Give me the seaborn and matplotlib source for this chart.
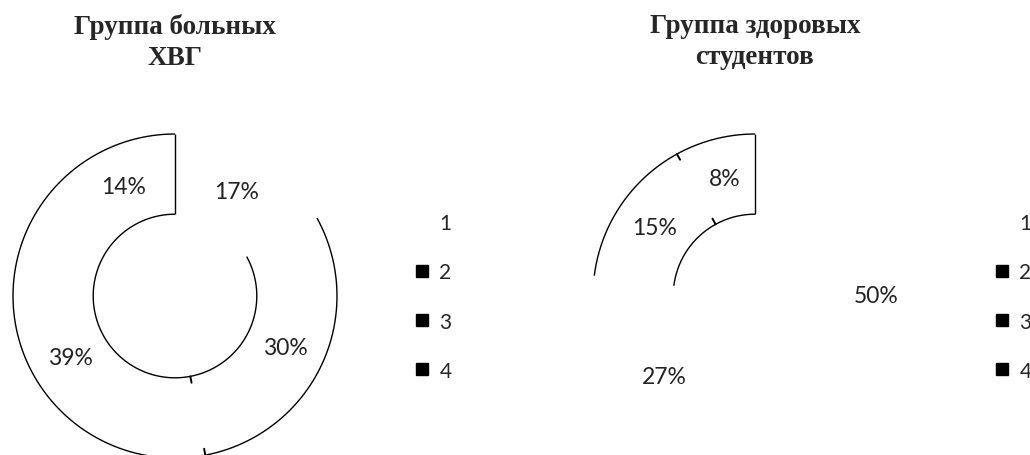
import matplotlib
matplotlib.use('Agg')

import matplotlib.pyplot as plt
import numpy as np
import seaborn as sns
from matplotlib.lines import Line2D


# data
labels = ['1', '2', '3', '4']
titles = ['Группа больных\nХВГ', 'Группа здоровых\nстудентов']
sick_pct = [17, 30, 39, 14]
healthy_pct = [50, 27, 15, 8]
# first slice that still shows its outline after the grey fills were lost
outlined_from = [1, 2]

sns.set_theme(style='white')
plt.rcParams['font.family'] = ['Lato', 'DejaVu Sans']

W, H = 1030, 456
R_PX = 162
HOLE = 0.505
centers = [(175, 297), (755, 297)]
legend_x = [405, 985]


def ring_edge(ax, values, first):
    cum = np.concatenate([[0], np.cumsum(values)]) / np.sum(values)
    start, end = cum[first], cum[-1]
    t = np.linspace(start, end, 300)
    ang = np.deg2rad(90 - 360 * t)
    kw = dict(color='black', lw=1.0, solid_capstyle='butt')
    ax.plot(np.cos(ang), np.sin(ang), **kw)
    ax.plot(HOLE * np.cos(ang), HOLE * np.sin(ang), **kw)
    a_end = np.deg2rad(90 - 360 * end)
    ax.plot([HOLE * np.cos(a_end), np.cos(a_end)], [HOLE * np.sin(a_end), np.sin(a_end)], **kw)
    # only a short tick is left of the first inner boundary
    if first + 1 < len(values):
        a = np.deg2rad(90 - 360 * cum[first + 1])
        for r0, r1 in [(1.0, 0.96), (HOLE, HOLE + 0.04)]:
            ax.plot([r0 * np.cos(a), r1 * np.cos(a)], [r0 * np.sin(a), r1 * np.sin(a)],
                    color='black', lw=1.4)


fig = plt.figure(figsize=(W / 100, H / 100), dpi=100)

for k, (vals, (cx, cy)) in enumerate(zip([sick_pct, healthy_pct], centers)):
    ax = fig.add_axes([(cx - R_PX) / W, (H - cy - R_PX) / H, 2 * R_PX / W, 2 * R_PX / H])
    ax.pie(
        vals,
        startangle=90,
        counterclock=False,
        colors=['white'] * len(vals),
        radius=1.0,
        wedgeprops=dict(width=1 - HOLE, edgecolor='none'),
        autopct=lambda p: f'{p:.0f}%',
        pctdistance=0.75,
        textprops=dict(fontsize=16.5, color='#222222'),
    )
    ring_edge(ax, vals, outlined_from[k])
    ax.set_xlim(-1, 1)
    ax.set_ylim(-1, 1)
    ax.set_aspect('equal')
    ax.axis('off')
    for line in ax.lines:
        line.set_clip_on(False)

    fig.text(cx / W, 1 - 14 / H, titles[k], ha='center', va='top',
             fontsize=19.5, fontweight='bold', family=['Liberation Serif', 'DejaVu Serif'],
             linespacing=1.3)

    handles = [Line2D([], [], marker='s', linestyle='none', markersize=9,
                      markerfacecolor=('white' if i == 0 else 'black'),
                      markeredgecolor=('white' if i == 0 else 'black'))
               for i in range(len(labels))]
    fig.legend(handles, labels, loc='center left',
               bbox_to_anchor=(legend_x[k] / W, 1 - 298 / H),
               frameon=False, fontsize=15, handlelength=0.85, handletextpad=0.4,
               labelspacing=1.4, borderaxespad=0)

fig.savefig('out.png', dpi=100, facecolor='white')
